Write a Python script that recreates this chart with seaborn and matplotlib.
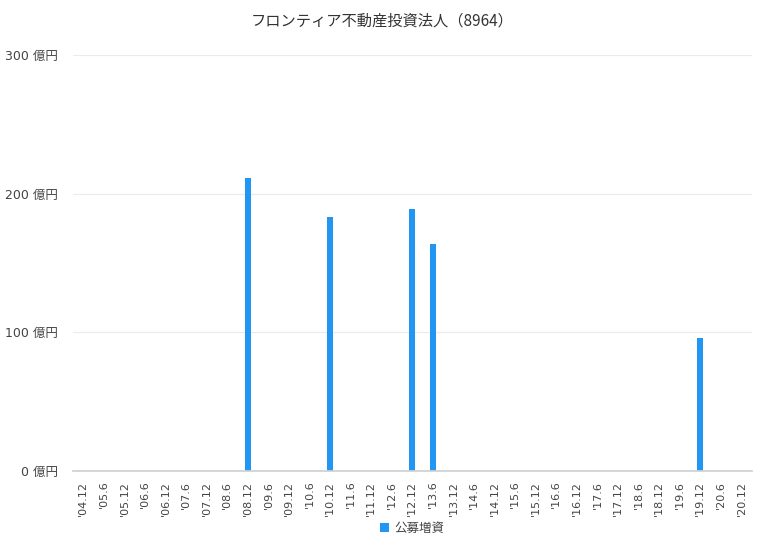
import pandas as pd
import matplotlib.pyplot as plt
import seaborn as sns

# データ
periods = ["'04.12", "'05.6", "'05.12", "'06.6", "'06.12", "'07.6", "'07.12", "'08.6",
           "'08.12", "'09.6", "'09.12", "'10.6", "'10.12", "'11.6", "'11.12", "'12.6",
           "'12.12", "'13.6", "'13.12", "'14.6", "'14.12", "'15.6", "'15.12", "'16.6",
           "'16.12", "'17.6", "'17.12", "'18.6", "'18.12", "'19.6", "'19.12", "'20.6",
           "'20.12"]
offering = [0, 0, 0, 0, 0, 0, 0, 0,
            211, 0, 0, 0, 183, 0, 0, 0,
            189, 164, 0, 0, 0, 0, 0, 0,
            0, 0, 0, 0, 0, 0, 96, 0,
            0]
y_ticks = [0, 100, 200, 300]

df = pd.DataFrame({"期": periods, "公募増資": offering})

sns.set_theme(style="white")
plt.rcParams["font.family"] = ["DejaVu Sans", "Noto Sans CJK JP"]

fig = plt.figure(figsize=(7.64, 5.5), dpi=100)
ax = fig.add_axes([0.0955, 0.1436, 0.8885, 0.7564])

sns.barplot(data=df, x="期", y="公募増資", color="#2196F3", width=0.3,
            saturation=1, linewidth=0, label="公募増資", ax=ax)

ax.set_ylim(0, 300)
ax.set_yticks(y_ticks)
ax.set_yticklabels([f"{v} 億円" for v in y_ticks], fontsize=9, color="#444444")
ax.tick_params(axis="y", length=0, pad=11)
ax.tick_params(axis="x", length=0, rotation=90, labelsize=8, labelcolor="#444444", pad=7)
ax.set_xlim(-0.5, len(periods) - 0.5)
ax.yaxis.grid(True, color="#ebebeb", linewidth=0.8)
ax.set_axisbelow(True)
for s in ["top", "right", "left"]:
    ax.spines[s].set_visible(False)
ax.spines["bottom"].set_color("#d0d0d0")
ax.set_xlabel("")
ax.set_ylabel("")

fig.suptitle("フロンティア不動産投資法人（8964）", y=0.978, fontsize=11, color="#333333",
             family=["Noto Sans CJK JP", "DejaVu Sans"])

ax.legend(loc="upper center", bbox_to_anchor=(0.5, -0.095), frameon=False,
          fontsize=9, handlelength=0.7, handleheight=0.7, handletextpad=0.4,
          labelcolor="#444444")

fig.savefig("out.png", dpi=100)
